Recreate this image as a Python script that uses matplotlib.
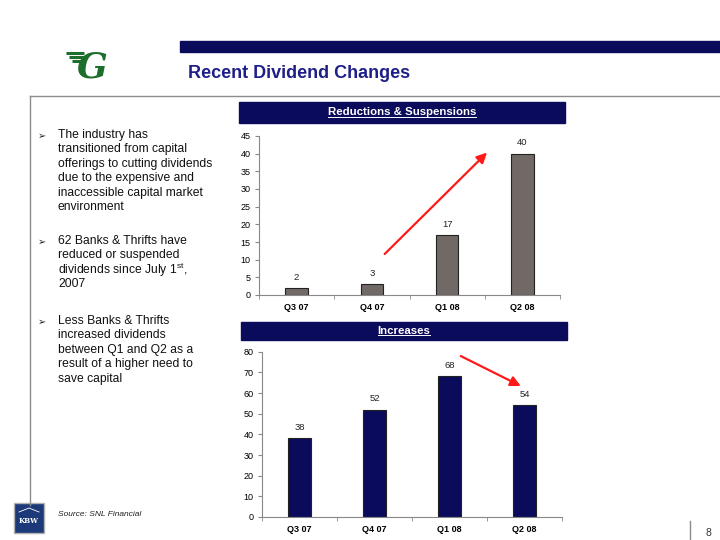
import matplotlib.pyplot as plt
import matplotlib.patches as mpatches
import numpy as np

plt.rcParams['font.family'] = ['Liberation Sans', 'DejaVu Sans']
plt.rcParams['mathtext.fontset'] = 'custom'
plt.rcParams['mathtext.rm'] = 'Liberation Sans'

# data
quarters = ['Q3 07', 'Q4 07', 'Q1 08', 'Q2 08']
reductions = [2, 3, 17, 40]
increases = [38, 52, 68, 54]

bullets = [
    ['The industry has', 'transitioned from capital', 'offerings to cutting dividends',
     'due to the expensive and', 'inaccessible capital market', 'environment'],
    ['62 Banks & Thrifts have', 'reduced or suspended',
     'dividends since July 1$^{\\rm st}$,', '2007'],
    ['Less Banks & Thrifts', 'increased dividends', 'between Q1 and Q2 as a',
     'result of a higher need to', 'save capital'],
]
bullet_tops = [135, 241, 321]

NAVY = '#0b0b5c'
W, H = 720, 540

fig = plt.figure(figsize=(7.2, 5.4), dpi=100)

# page layer in pixel coordinates
bg = fig.add_axes([0, 0, 1, 1])
bg.set_xlim(0, W)
bg.set_ylim(H, 0)
bg.axis('off')

bg.add_patch(mpatches.Rectangle((180, 41), 540, 11, color=NAVY))
bg.text(188, 73, 'Recent Dividend Changes', fontsize=13, fontweight='bold',
        color='#1f1f8a', va='center', ha='left')

# green logo (rough)
for i, yy in enumerate([53, 57, 61]):
    bg.plot([66 + i * 3, 84], [yy, yy], color='#1d6e2c', lw=2.2, solid_capstyle='butt')
bg.text(92, 67, 'G', fontsize=26, fontweight='bold', fontstyle='italic',
        family='DejaVu Serif', color='#1d6e2c', ha='center', va='center')

# frame lines
bg.plot([30, 720], [96, 96], color='#8c8c8c', lw=1)
bg.plot([30, 30], [96, 505], color='#8c8c8c', lw=1)
bg.plot([690, 690], [521, 540], color='#8c8c8c', lw=1)
bg.text(708, 533, '8', fontsize=7.5, color='#333333', ha='center', va='center')

# KBW logo and source
bg.add_patch(mpatches.Rectangle((14, 503), 30, 30, facecolor='#1c3a7a',
                                edgecolor='#b0b0b0', lw=1))
bg.text(29, 521, 'KBW', fontsize=5, color='white', fontweight='bold',
        family='DejaVu Serif', ha='center', va='center')
bg.plot([19, 29, 39], [512, 508, 512], color='white', lw=0.6)
bg.text(58, 514, 'Source: SNL Financial', fontsize=6, fontstyle='italic',
        color='#222222', ha='left', va='center')

# left bullets
for lines, top in zip(bullets, bullet_tops):
    bg.text(42, top + 1, '\u27a2', fontsize=7, family='DejaVu Sans', color='#222222',
            ha='center', va='center')
    for k, line in enumerate(lines):
        bg.text(58, top + k * 14.4, line, fontsize=8.7, color='#111111',
                ha='left', va='center')


def header(x0, y0, x1, y1, label):
    bg.add_patch(mpatches.Rectangle((x0, y0), x1 - x0, y1 - y0, color=NAVY))
    t = bg.text((x0 + x1) / 2, (y0 + y1) / 2 - 0.5, label, fontsize=8.2,
                fontweight='bold', color='white', ha='center', va='center')
    return t


h1 = header(239, 102, 565, 123, 'Reductions & Suspensions')
h2 = header(241, 322, 567, 340, 'Increases')


def chart(x0, x1, ytop, ybot, values, ymax, ystep, color, arrow):
    ax = fig.add_axes([x0 / W, 1 - ybot / H, (x1 - x0) / W, (ybot - ytop) / H])
    pos = np.arange(len(values))
    ax.bar(pos, values, width=0.3, color=color, edgecolor='#222222', lw=0.8)
    for p, v in zip(pos, values):
        ax.annotate(str(v), (p, v), xytext=(0, 4.5), textcoords='offset points',
                    ha='center', va='bottom', fontsize=6.8, color='#222222')
    ax.set_xlim(-0.5, len(values) - 0.5)
    ax.set_ylim(0, ymax)
    ax.set_yticks(np.arange(0, ymax + 1, ystep))
    ax.set_xticks(pos)
    ax.set_xticklabels(quarters, fontsize=6.5, fontweight='bold')
    ax.set_xticks(np.arange(-0.5, len(values), 1), minor=True)
    ax.tick_params(axis='x', which='major', length=0, pad=6)
    ax.tick_params(axis='x', which='minor', length=3, color='#888888', direction='out')
    ax.tick_params(axis='y', labelsize=6.5, length=3, color='#888888', pad=3)
    for s in ['top', 'right']:
        ax.spines[s].set_visible(False)
    for s in ['left', 'bottom']:
        ax.spines[s].set_color('#888888')
        ax.spines[s].set_linewidth(0.8)
    ax.patch.set_alpha(0)
    ax.annotate('', xy=arrow[1], xytext=arrow[0],
                arrowprops=dict(arrowstyle='-|>', color='#ff1a1a', lw=1.6,
                                mutation_scale=15, shrinkA=0, shrinkB=0),
                annotation_clip=False)
    return ax


chart(259, 560, 136, 295, reductions, 45, 5, '#716966',
      ((1.17, 11.6), (2.53, 40.3)))
chart(262, 562, 351.7, 517, increases, 80, 10, NAVY,
      ((2.15, 77.9), (2.95, 63.4)))

# underline the header labels
fig.canvas.draw()
inv = bg.transData.inverted()
for t in (h1, h2):
    bb = t.get_window_extent()
    (ax0, ay0), (ax1, ay1) = inv.transform([[bb.x0, bb.y0], [bb.x1, bb.y1]])
    bg.plot([ax0, ax1], [ay0 - 0.5, ay0 - 0.5], color='white', lw=0.7)

fig.savefig('out.png', dpi=100)
